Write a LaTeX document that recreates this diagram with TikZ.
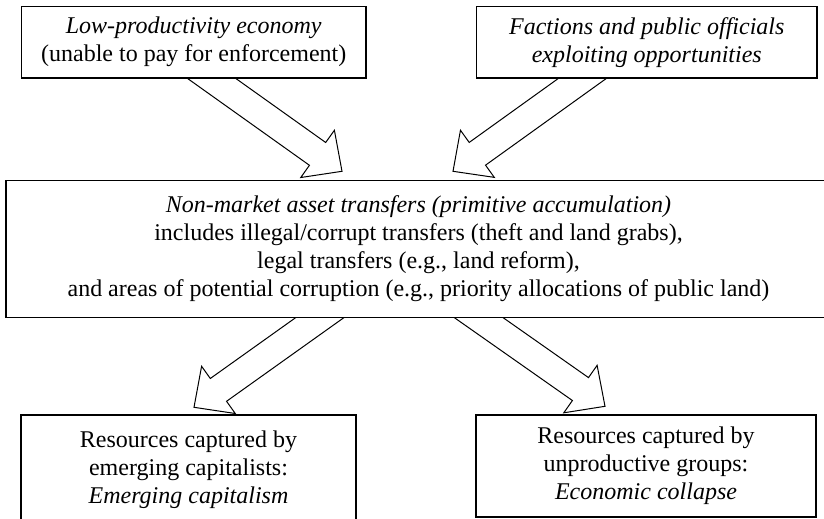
\documentclass[tikz,border=0pt]{standalone}
\usepackage{fontspec}
\setmainfont{Liberation Serif}
\usepackage{tikz}
\usetikzlibrary{backgrounds}
\usetikzlibrary{positioning, calc}
\tikzset{box/.style={draw, line width=.7pt, fill=white, align=center, inner sep=0pt,
    font=\fontsize{12}{14}\selectfont}}
\tikzset{hollow/.style={draw, line width=.5pt, fill=white, line join=miter}}
% block arrow from tail (on box edge) to tip
\newcommand{\blockarrow}[2]{%
  \coordinate (ta) at ($(#2)!1.25!(#1)$);
  \coordinate (hb) at ($(#2)!15pt!(#1)$);
  \draw[hollow] ($(ta)!7pt!90:(#2)$) -- ($(hb)!7pt!90:(#2)$) -- ($(hb)!14.5pt!90:(#2)$)
    -- (#2) -- ($(hb)!14.5pt!-90:(#2)$) -- ($(hb)!7pt!-90:(#2)$) -- ($(ta)!7pt!-90:(#2)$) -- cycle;
}

\begin{document}
\begin{tikzpicture}[x=.5pt, y=-.5pt]
      \useasboundingbox (0,0) rectangle (824,519);

      \node[box, minimum width=172.25pt, minimum height=35.75pt] (low) at (193.75,42.25)
        {\textit{Low-productivity economy}\\(unable to pay for enforcement)};
      \node[box, minimum width=170.25pt, minimum height=35.75pt] (fac) at (646.75,42.25)
        {\textit{Factions and public officials}\\\textit{exploiting opportunities}};

      \node[box, minimum width=412.5pt, minimum height=68.5pt] (nm) at (418.5,249)
        {\textit{Non-market asset transfers (primitive accumulation)}\\
         includes illegal/corrupt transfers (theft and land grabs),\\
         legal transfers (e.g., land reform),\\
         and areas of potential corruption (e.g., priority allocations of public land)};

      \node[box, minimum width=167.5pt, minimum height=55pt] (cap) at (188.5,470)
        {Resources captured by\\emerging capitalists:\\\textit{Emerging capitalism}};
      \node[box, minimum width=170pt, minimum height=51pt] (col) at (646,466)
        {Resources captured by\\unproductive groups:\\\textit{Economic collapse}};

      \coordinate (t0) at ($(low.south)+(18.25,0)$);
      \coordinate (h0) at ($(nm.north)+(-76.5,-8.5)$);
      \coordinate (t1) at ($(fac.south)+(-64.75,0)$);
      \coordinate (h1) at ($(nm.north)+(34.5,-8.5)$);
      \coordinate (t2) at ($(nm.south)+(-99.5,0)$);
      \coordinate (h2) at ($(cap.north)+(5.5,-7)$);
      \coordinate (t3) at ($(nm.south)+(61,0)$);
      \coordinate (h3) at ($(col.north)+(-41,-8)$);

      \begin{scope}[on background layer]
        \blockarrow{t0}{h0}
        \blockarrow{t1}{h1}
        \blockarrow{t2}{h2}
        \blockarrow{t3}{h3}
      \end{scope}

    \end{tikzpicture}
\end{document}
